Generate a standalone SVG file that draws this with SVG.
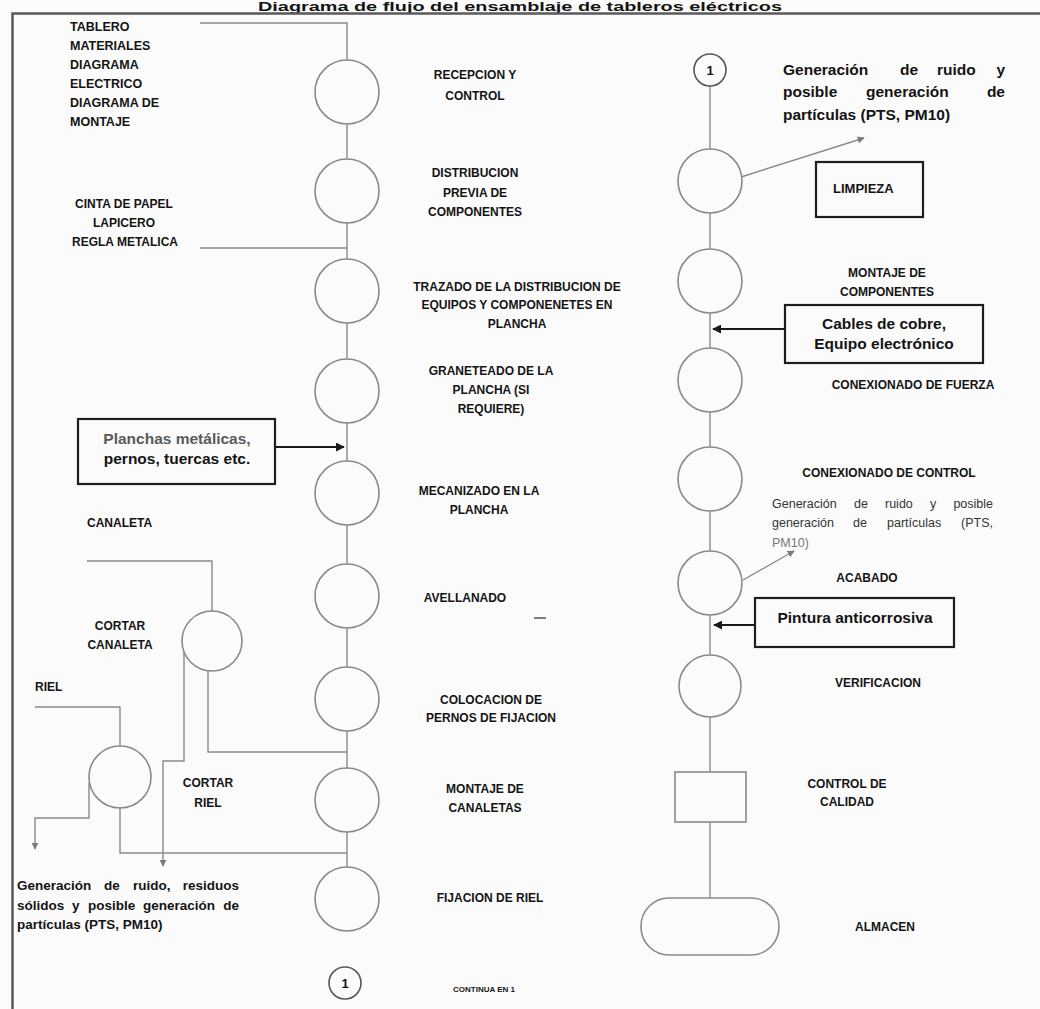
<svg xmlns="http://www.w3.org/2000/svg" width="1040" height="1009" viewBox="0 0 1040 1009">
<defs>
<style>
text{font-family:"Liberation Sans",Arial,sans-serif;font-weight:bold;fill:#141414}
.lab{font-size:12px}
.lft{font-size:12.5px}
.mid{text-anchor:middle}
.bx{font-size:15.5px}
.reg{font-weight:normal;fill:#333}
.ln{fill:none;stroke:#8a8a8a;stroke-width:1.4}
.blk{fill:none;stroke:#1a1a1a;stroke-width:2}
.op{fill:#fbfbfb;stroke:#8a8a8a;stroke-width:1.6}
.box{fill:#fbfbfb;stroke:#1e1e1e;stroke-width:2.2}
</style>
<marker id="ag" viewBox="0 0 10 10" refX="9" refY="5" markerWidth="7" markerHeight="7" orient="auto" markerUnits="userSpaceOnUse"><path d="M0,0 L10,5 L0,10 z" fill="#7a7a7a"/></marker>
<marker id="ak" viewBox="0 0 10 10" refX="9" refY="5" markerWidth="9" markerHeight="9" orient="auto" markerUnits="userSpaceOnUse"><path d="M0,0 L10,5 L0,10 z" fill="#1a1a1a"/></marker>
</defs>
<rect width="1040" height="1009" fill="#fbfbfb"/>
<text x="258" y="11" textLength="524" lengthAdjust="spacingAndGlyphs" style="font-size:13.5px">Diagrama de flujo del ensamblaje de tableros eléctricos</text>
<path d="M12.5 1009 V13.5 H1040" fill="none" stroke="#5a5a5a" stroke-width="2.5"/>

<g id="connectors">
<path class="ln" d="M200 23 H347 V867"/>
<path class="ln" d="M200 248 H347"/>
<path class="ln" d="M710 86 V898"/>
<path class="ln" d="M87 561 H212 V611"/>
<path class="ln" d="M208 671 V752 H347"/>
<path class="ln" d="M184 652 V761 H163 V866" marker-end="url(#ag)"/>
<path class="ln" d="M35 707 H120 V746"/>
<path class="ln" d="M120 808 V853 H347"/>
<path class="ln" d="M89 783 V818 H35 V849" marker-end="url(#ag)"/>
<path class="blk" d="M275 447 H344" marker-end="url(#ak)"/>
<path class="blk" d="M785 329 H713" marker-end="url(#ak)"/>
<path class="blk" d="M755 625 H714" marker-end="url(#ak)"/>
<path class="ln" d="M741 177 L864 138" marker-end="url(#ag)"/>
<path class="ln" d="M743 580 L794 551" marker-end="url(#ag)"/>
<path d="M534 618 H546" stroke="#555" stroke-width="1.5"/>
</g>

<g id="inputs-top">
<text class="lft" x="70" y="31">TABLERO</text>
<text class="lft" x="70" y="50">MATERIALES</text>
<text class="lft" x="70" y="69">DIAGRAMA</text>
<text class="lft" x="70" y="88">ELECTRICO</text>
<text class="lft" x="70" y="107">DIAGRAMA DE</text>
<text class="lft" x="70" y="126">MONTAJE</text>
</g>
<g id="inputs-tools">
<text class="lab mid" x="124" y="208">CINTA DE PAPEL</text>
<text class="lab mid" x="124" y="227">LAPICERO</text>
<text class="lab mid" x="125" y="246">REGLA METALICA</text>
</g>

<g id="n-recepcion"><circle class="op" cx="347" cy="92" r="32"/>
<text class="lab mid" x="475" y="79">RECEPCION Y</text><text class="lab mid" x="475" y="100">CONTROL</text></g>
<g id="n-distribucion"><circle class="op" cx="347" cy="191" r="32"/>
<text class="lab mid" x="475" y="177">DISTRIBUCION</text><text class="lab mid" x="475" y="197">PREVIA DE</text><text class="lab mid" x="475" y="216">COMPONENTES</text></g>
<g id="n-trazado"><circle class="op" cx="347" cy="291" r="32"/>
<text class="lab mid" x="517" y="291">TRAZADO DE LA DISTRIBUCION DE</text><text class="lab mid" x="517" y="309">EQUIPOS Y COMPONENETES EN</text><text class="lab mid" x="517" y="328">PLANCHA</text></g>
<g id="n-graneteado"><circle class="op" cx="347" cy="391" r="32"/>
<text class="lab mid" x="491" y="375">GRANETEADO DE LA</text><text class="lab mid" x="491" y="394">PLANCHA (SI</text><text class="lab mid" x="491" y="413">REQUIERE)</text></g>
<g id="in-planchas"><rect class="box" x="78" y="419" width="197" height="65"/>
<text class="mid bx" x="177" y="443.5" style="fill:#5a5a5a">Planchas metálicas,</text>
<text class="mid bx" x="177" y="463.5">pernos, tuercas etc.</text></g>
<g id="n-mecanizado"><circle class="op" cx="347" cy="493" r="32"/>
<text class="lab mid" x="479" y="495">MECANIZADO EN LA</text><text class="lab mid" x="479" y="514">PLANCHA</text></g>
<g id="n-avellanado"><circle class="op" cx="347" cy="596" r="32"/>
<text class="lab mid" x="465" y="602">AVELLANADO</text></g>
<g id="n-colocacion"><circle class="op" cx="347" cy="699" r="32"/>
<text class="lab mid" x="491" y="704">COLOCACION DE</text><text class="lab mid" x="491" y="722">PERNOS DE FIJACION</text></g>
<g id="n-montaje-canaletas"><circle class="op" cx="347" cy="800" r="32"/>
<text class="lab mid" x="485" y="793">MONTAJE DE</text><text class="lab mid" x="485" y="812">CANALETAS</text></g>
<g id="n-fijacion-riel"><circle class="op" cx="347" cy="899" r="32"/>
<text class="lab mid" x="490" y="902">FIJACION DE RIEL</text></g>
<g id="n-conector-out"><circle class="op" cx="345" cy="983" r="16" style="stroke:#555"/>
<text class="mid" x="345" y="988" style="font-size:13px">1</text>
<text class="mid" x="484" y="992" style="font-size:8px">CONTINUA EN 1</text></g>

<g id="in-canaleta"><text class="lab" x="87" y="527">CANALETA</text></g>
<g id="n-cortar-canaleta"><circle class="op" cx="212" cy="641" r="30"/>
<text class="lab mid" x="120" y="630">CORTAR</text><text class="lab mid" x="120" y="649">CANALETA</text></g>
<g id="in-riel"><text class="lab" x="35" y="691">RIEL</text></g>
<g id="n-cortar-riel"><circle class="op" cx="120" cy="777" r="31"/>
<text class="lab mid" x="208" y="787">CORTAR</text><text class="lab mid" x="208" y="807">RIEL</text></g>
<g id="out-residuos" style="font-size:13.5px">
<text y="890"><tspan x="17">Generación</tspan><tspan x="104">de</tspan><tspan x="133">ruido,</tspan><tspan x="239" text-anchor="end">residuos</tspan></text>
<text y="910"><tspan x="17">sólidos</tspan><tspan x="72">y</tspan><tspan x="88">posible</tspan><tspan x="143">generación</tspan><tspan x="239" text-anchor="end">de</tspan></text>
<text x="17" y="929">partículas (PTS, PM10)</text>
</g>

<g id="n-conector-in"><circle class="op" cx="710" cy="70" r="16" style="stroke:#555"/>
<text class="mid" x="710" y="75" style="font-size:13px">1</text></g>
<g id="out-ruido-1" class="bx">
<text y="75"><tspan x="783">Generación</tspan><tspan x="900">de</tspan><tspan x="937">ruido</tspan><tspan x="1005" text-anchor="end">y</tspan></text>
<text y="97"><tspan x="783">posible</tspan><tspan x="866">generación</tspan><tspan x="1005" text-anchor="end">de</tspan></text>
<text x="783" y="120">partículas (PTS, PM10)</text>
</g>
<g id="n-limpieza"><circle class="op" cx="710" cy="181" r="32"/>
<rect class="box" x="816" y="162" width="107" height="55"/>
<text x="833" y="193" style="font-size:13px">LIMPIEZA</text></g>
<g id="n-montaje-componentes"><circle class="op" cx="710" cy="281" r="32"/>
<text class="lab mid" x="887" y="277">MONTAJE DE</text><text class="lab mid" x="887" y="296">COMPONENTES</text></g>
<g id="in-cables"><rect class="box" x="785" y="305" width="198" height="58"/>
<text class="mid bx" x="884" y="328.5">Cables de cobre,</text>
<text class="mid bx" x="884" y="348.5">Equipo electrónico</text></g>
<g id="n-conexionado-fuerza"><circle class="op" cx="710" cy="380" r="32"/>
<text class="lab mid" x="913" y="389">CONEXIONADO DE FUERZA</text></g>
<g id="n-conexionado-control"><circle class="op" cx="710" cy="479" r="32"/>
<text class="lab mid" x="889" y="477">CONEXIONADO DE CONTROL</text></g>
<g id="out-ruido-2" style="font-size:12.5px">
<text class="reg" y="507.5"><tspan x="772">Generación</tspan><tspan x="854">de</tspan><tspan x="885">ruido</tspan><tspan x="930">y</tspan><tspan x="993" text-anchor="end">posible</tspan></text>
<text class="reg" y="527"><tspan x="772">generación</tspan><tspan x="853">de</tspan><tspan x="887">partículas</tspan><tspan x="993" text-anchor="end">(PTS,</tspan></text>
<text class="reg" x="772" y="546.5" style="fill:#777">PM10)</text>
</g>
<g id="n-acabado"><circle class="op" cx="710" cy="583" r="32"/>
<text class="lab mid" x="867" y="582">ACABADO</text></g>
<g id="in-pintura"><rect class="box" x="755" y="598" width="199" height="49"/>
<text class="mid bx" x="855" y="622.5">Pintura anticorrosiva</text></g>
<g id="n-verificacion"><circle class="op" cx="710" cy="686" r="31"/>
<text class="lab mid" x="878" y="687">VERIFICACION</text></g>
<g id="n-control-calidad"><rect class="op" x="675" y="772" width="71" height="50"/>
<text class="lab mid" x="847" y="788">CONTROL DE</text><text class="lab mid" x="847" y="806">CALIDAD</text></g>
<g id="n-almacen"><rect class="op" x="641" y="898" width="138" height="57" rx="28" ry="28"/>
<text class="lab mid" x="885" y="931">ALMACEN</text></g>
</svg>
